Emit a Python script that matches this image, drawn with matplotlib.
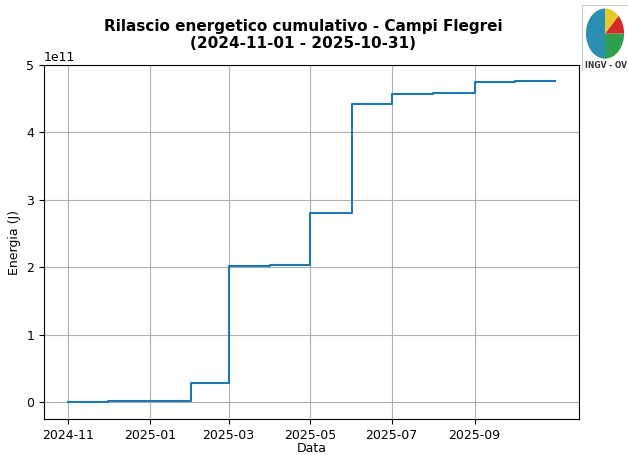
import datetime as dt
import matplotlib
matplotlib.use("Agg")
import matplotlib.pyplot as plt
import matplotlib.patches as mpatches
import matplotlib.dates as mdates

# monthly cumulative energy (J), step changes at month starts
month_starts = ["2024-11-01", "2024-12-01", "2025-01-01", "2025-02-01",
                "2025-03-01", "2025-04-01", "2025-05-01", "2025-06-01",
                "2025-07-01", "2025-08-01", "2025-09-01", "2025-10-01",
                "2025-10-31"]
energy_cum = [0.0, 0.012e11, 0.022e11, 0.28e11,
              2.02e11, 2.03e11, 2.80e11, 4.42e11,
              4.57e11, 4.59e11, 4.75e11, 4.77e11,
              4.77e11]
tick_months = ["2024-11-01", "2025-01-01", "2025-03-01",
               "2025-05-01", "2025-07-01", "2025-09-01"]

dates = [dt.datetime.strptime(d, "%Y-%m-%d") for d in month_starts]
ticks = [dt.datetime.strptime(d, "%Y-%m-%d") for d in tick_months]

fig = plt.figure(figsize=(6.28, 4.55), dpi=100)
ax = fig.add_axes([0.070, 0.079, 0.852, 0.778])

ax.step(dates, energy_cum, where="post", color="#1f77b4", linewidth=1.5)
ax.set_ylim(-0.25e11, 5e11)
ax.grid(True)

ax.set_title("Rilascio energetico cumulativo - Campi Flegrei\n(2024-11-01 - 2025-10-31)",
             fontsize=11, fontweight="bold", pad=12, x=0.485)
ax.set_xlabel("Data", fontsize=9, labelpad=0)
ax.set_ylabel("Energia (J)", fontsize=9)
ax.tick_params(labelsize=9)
ax.yaxis.get_offset_text().set_fontsize(9)

ax.set_xticks(ticks)
ax.xaxis.set_major_formatter(mdates.DateFormatter("%Y-%m"))

# rough stand-in for the INGV-OV logo
logo = fig.add_axes([0.925, 0.845, 0.08, 0.145])
logo.set_xlim(0, 1)
logo.set_ylim(0, 1)
logo.axis("off")
logo.add_patch(mpatches.Rectangle((0.02, 0.0), 0.98, 1.0, facecolor="white",
                                  edgecolor="#cccccc", linewidth=0.8))
logo.add_patch(mpatches.Wedge((0.48, 0.56), 0.38, 90, 270, facecolor="#2a8fb0"))
logo.add_patch(mpatches.Wedge((0.48, 0.56), 0.38, -90, 0, facecolor="#2e9e4f"))
logo.add_patch(mpatches.Wedge((0.48, 0.56), 0.38, 0, 45, facecolor="#d42a2a"))
logo.add_patch(mpatches.Wedge((0.48, 0.56), 0.38, 45, 90, facecolor="#e6c92a"))
logo.text(0.5, 0.08, "INGV - OV", fontsize=5.5, ha="center", va="center",
          color="#333333", fontweight="bold")

fig.savefig("out.png", dpi=100)
